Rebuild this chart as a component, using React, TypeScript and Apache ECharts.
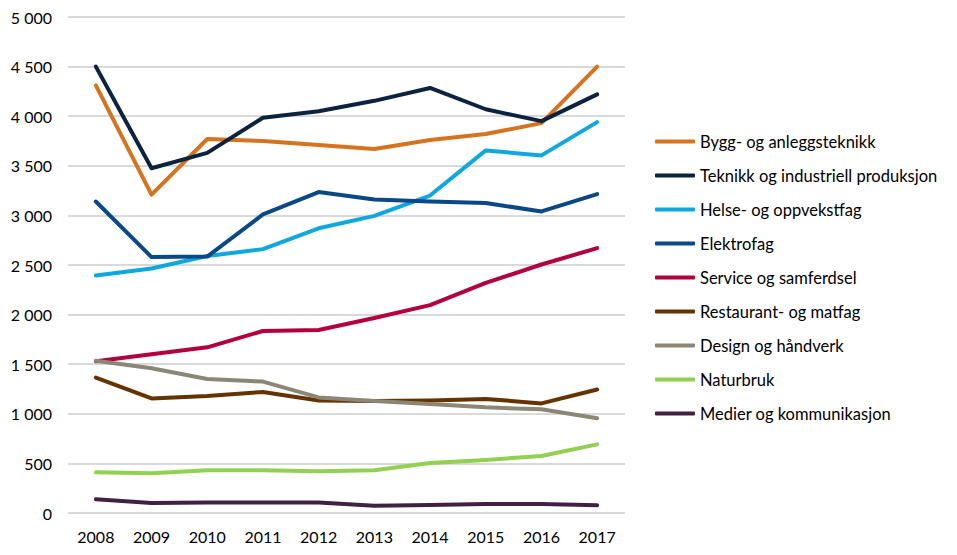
import * as echarts from "echarts"
import { useEffect, useRef } from "react"

const years = ["2008", "2009", "2010", "2011", "2012", "2013", "2014", "2015", "2016", "2017"]

const bygg = [4310, 3210, 3770, 3750, 3710, 3670, 3760, 3820, 3930, 4500]
const teknikk = [4500, 3475, 3630, 3985, 4050, 4155, 4285, 4070, 3950, 4220]
const helse = [2395, 2465, 2590, 2660, 2870, 2995, 3200, 3655, 3605, 3940]
const elektro = [3140, 2580, 2585, 3010, 3235, 3160, 3140, 3125, 3040, 3215]
const service = [1530, 1600, 1670, 1835, 1845, 1965, 2095, 2320, 2505, 2670]
const restaurant = [1365, 1155, 1180, 1220, 1135, 1130, 1135, 1150, 1105, 1245]
const design = [1535, 1460, 1350, 1325, 1165, 1130, 1100, 1065, 1045, 955]
const naturbruk = [410, 400, 430, 430, 420, 430, 505, 535, 575, 692]
const medier = [138, 100, 105, 105, 105, 72, 80, 90, 90, 78]

const seriesDefs = [
  { name: "Bygg- og anleggsteknikk", data: bygg, color: "#d5731f" },
  { name: "Teknikk og industriell produksjon", data: teknikk, color: "#0c2340" },
  { name: "Helse- og oppvekstfag", data: helse, color: "#0ea7e0" },
  { name: "Elektrofag", data: elektro, color: "#0b4886" },
  { name: "Service og samferdsel", data: service, color: "#b3003e" },
  { name: "Restaurant- og matfag", data: restaurant, color: "#663300" },
  { name: "Design og håndverk", data: design, color: "#8b8676" },
  { name: "Naturbruk", data: naturbruk, color: "#92d050" },
  { name: "Medier og kommunikasjon", data: medier, color: "#412143" },
]

const font = "Lato, 'Open Sans', sans-serif"

export default function App() {
  const ref = useRef<HTMLDivElement>(null)

  useEffect(() => {
    if (!ref.current) return
    const chart = echarts.init(ref.current, null, { renderer: "svg" })

    chart.setOption({
      animation: false,
      textStyle: { fontFamily: font },
      grid: { left: 68, right: 332, top: 17, bottom: 42, containLabel: false },
      legend: {
        orient: "vertical",
        left: 655,
        top: 133,
        padding: 0,
        itemWidth: 40,
        itemHeight: 4,
        itemGap: 17,
        icon: "roundRect",
        data: seriesDefs.map((s) => s.name),
        textStyle: { fontSize: 16.5, color: "#000", fontFamily: font, lineHeight: 16 },
      },
      xAxis: {
        type: "category",
        data: years,
        boundaryGap: true,
        axisLine: { show: false },
        axisTick: { show: false },
        axisLabel: { color: "#000", fontSize: 16, fontFamily: font, margin: 15 },
      },
      yAxis: {
        type: "value",
        min: 0,
        max: 5000,
        interval: 500,
        axisLine: { show: false },
        axisTick: { show: false },
        splitLine: { lineStyle: { color: "#d9d9d9", width: 2 } },
        axisLabel: {
          color: "#000",
          fontSize: 16,
          fontFamily: font,
          margin: 16,
          formatter: (v: number) => (v >= 1000 ? `${Math.floor(v / 1000)} ${String(v % 1000).padStart(3, "0")}` : String(v)),
        },
      },
      series: seriesDefs.map((s) => ({
        name: s.name,
        type: "line",
        data: s.data,
        symbol: "none",
        color: s.color,
        lineStyle: { width: 4, color: s.color, cap: "round", join: "round" },
      })),
    })

    return () => chart.dispose()
  }, [])

  return <div ref={ref} style={{ width: 957, height: 555, margin: -8 }} />
}
